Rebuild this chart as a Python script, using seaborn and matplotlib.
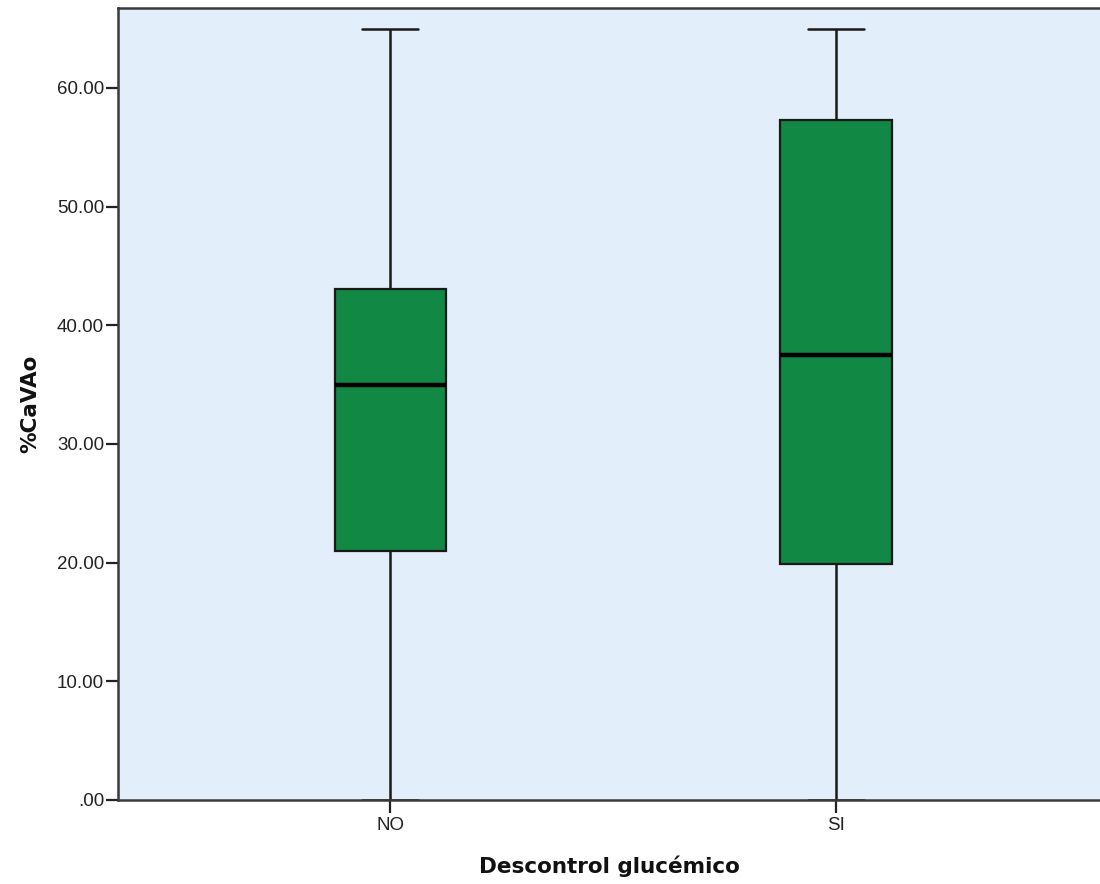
import numpy as np
import pandas as pd
import matplotlib
matplotlib.use("Agg")
import matplotlib.pyplot as plt
import seaborn as sns

# Five-number summaries (min, Q1, median, Q3, max)
categories = ["NO", "SI"]
no_values = [0.0, 21.0, 35.0, 43.1, 65.0]
si_values = [0.0, 19.9, 37.5, 57.3, 65.0]
yticks = [0, 10, 20, 30, 40, 50, 60]
ytick_labels = [".00", "10.00", "20.00", "30.00", "40.00", "50.00", "60.00"]

df = pd.DataFrame({
    "group": [categories[0]] * len(no_values) + [categories[1]] * len(si_values),
    "value": no_values + si_values,
})

sns.set_style("white")
plt.rcParams["font.family"] = ["Liberation Sans", "DejaVu Sans"]

fig = plt.figure(figsize=(11, 8.84), dpi=100)
ax = fig.add_axes([118 / 1100, 84 / 884, (1100 - 118) / 1100, 792 / 884])
ax.set_facecolor("#E2EEFA")

line_kw = dict(color="#1a1a1a", linewidth=1.8)
sns.boxplot(data=df, x="group", y="value", order=categories, ax=ax,
            whis=np.inf, width=0.249, color="#118844", saturation=1,
            boxprops=dict(facecolor="#118844", edgecolor="#1a1a1a", linewidth=1.6),
            whiskerprops=line_kw, capprops=line_kw,
            medianprops=dict(color="black", linewidth=3.2),
            showfliers=False)

# cap width (half of box width)
for line in ax.lines:
    xd = line.get_xdata()
    yd = line.get_ydata()
    if len(xd) == 2 and yd[0] == yd[1] and 0 < abs(xd[1] - xd[0]) < 0.2:
        c = (xd[0] + xd[1]) / 2
        line.set_xdata([c - 0.063, c + 0.063])

ax.set_xlim(-0.61, 1.592)
ax.set_ylim(0, 66.74)
ax.set_yticks(yticks)
ax.set_yticklabels(ytick_labels)

for side in ["left", "bottom", "top"]:
    ax.spines[side].set_visible(True)
    ax.spines[side].set_color("#3a3a3a")
    ax.spines[side].set_linewidth(1.8)
ax.spines["right"].set_visible(False)

ax.tick_params(axis="y", which="major", direction="out", length=9, width=1.6,
               color="#222222", labelsize=13.5, labelcolor="#222222", pad=1, left=True)
ax.tick_params(axis="x", which="major", direction="out", length=9, width=1.6,
               color="#222222", labelsize=13.5, labelcolor="#222222", pad=3, bottom=True)

ax.set_xlabel("Descontrol glucémico", fontsize=15.5, fontweight="bold", labelpad=16,
              color="#111111", family=["DejaVu Sans"])
ax.set_ylabel("%CaVAo", fontsize=15.5, fontweight="bold", labelpad=12,
              color="#111111", family=["DejaVu Sans"])

fig.savefig("out.png", dpi=100)
